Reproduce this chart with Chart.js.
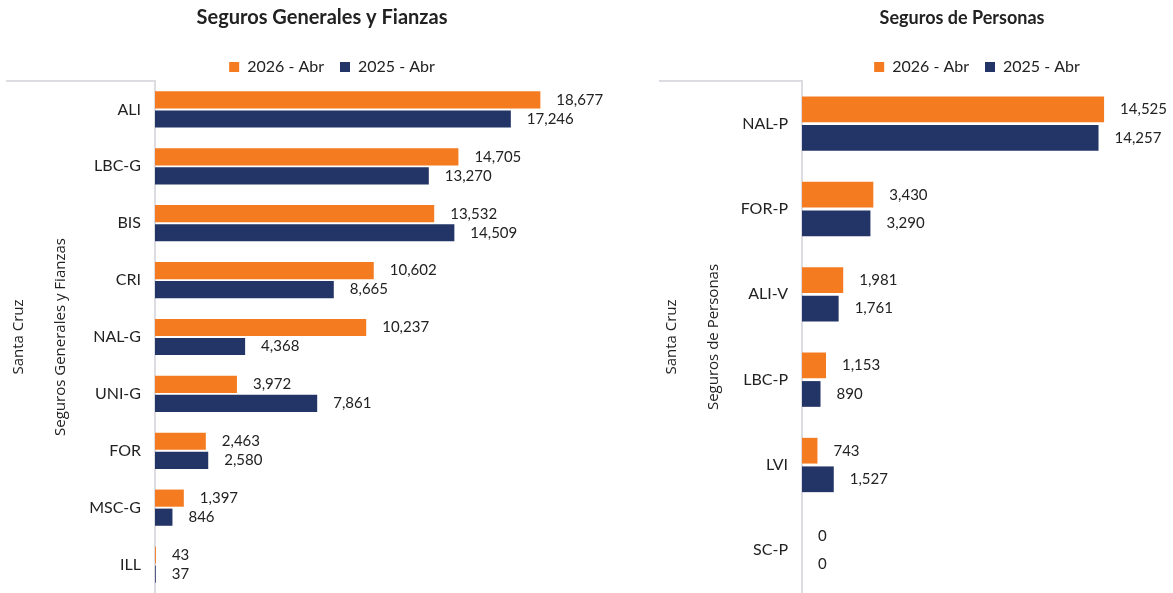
<!DOCTYPE html>
<html>
<head>
<meta charset="utf-8">
<script src="https://cdn.jsdelivr.net/npm/chart.js@4"></script>
<style>
    html, body { margin: 0; padding: 0; background: #fff; overflow: hidden; }
    body { width: 1173px; height: 593px; position: relative; }
    .box { position: absolute; top: 0; height: 593px; }
    #left-box { left: 0; width: 644px; }
    #right-box { left: 653px; width: 618px; }
</style>
</head>
<body>
<div class="box" id="left-box"><canvas id="leftChart"></canvas></div>
<div class="box" id="right-box"><canvas id="rightChart"></canvas></div>
<script>
// Seguros Generales y Fianzas
const genCategories = ['ALI', 'LBC-G', 'BIS', 'CRI', 'NAL-G', 'UNI-G', 'FOR', 'MSC-G', 'ILL'];
const gen2026 = [18677, 14705, 13532, 10602, 10237, 3972, 2463, 1397, 43];
const gen2025 = [17246, 13270, 14509, 8665, 4368, 7861, 2580, 846, 37];

// Seguros de Personas
const perCategories = ['NAL-P', 'FOR-P', 'ALI-V', 'LBC-P', 'LVI', 'SC-P'];
const per2026 = [14525, 3430, 1981, 1153, 743, 0];
const per2025 = [14257, 3290, 1761, 890, 1527, 0];

const seriesLabels = ['2026 - Abr', '2025 - Abr'];
const regionLabel = 'Santa Cruz';

const ORANGE = '#F47B20';
const NAVY = '#233466';
const TEXT = '#222222';
const AXIS_GREY = '#DCDCE2';
const FONT = 'Lato, "Open Sans", sans-serif';

// Value labels to the right of each bar
const valueLabels = {
    id: 'valueLabels',
    afterDatasetsDraw(chart) {
        const ctx = chart.ctx;
        ctx.save();
        ctx.font = '15px ' + FONT;
        ctx.fillStyle = TEXT;
        ctx.textAlign = 'left';
        ctx.textBaseline = 'middle';
        chart.data.datasets.forEach((ds, i) => {
            const meta = chart.getDatasetMeta(i);
            meta.data.forEach((bar, j) => {
                ctx.fillText(ds.data[j].toLocaleString('en-US'), bar.x + 16, bar.y);
            });
        });
        ctx.restore();
    }
};

// Nested axis titles, top border of the label area, legend nudge
const groupAxis = {
    id: 'groupAxis',
    afterLayout(chart, args, opts) {
        // legend sits a bit right of the title in the original
        chart.legend.left += opts.legendShift;
        chart.legend.right += opts.legendShift;
    },
    afterDraw(chart, args, opts) {
        const ctx = chart.ctx;
        const area = chart.chartArea;
        const midY = (area.top + area.bottom) / 2;
        ctx.save();
        ctx.strokeStyle = AXIS_GREY;
        ctx.lineWidth = 2;
        ctx.beginPath();
        ctx.moveTo(6, area.top);
        ctx.lineTo(area.left, area.top);
        ctx.stroke();

        ctx.fillStyle = TEXT;
        ctx.font = '15px "Open Sans", sans-serif';
        ctx.textAlign = 'center';
        ctx.textBaseline = 'middle';
        [[19, regionLabel], [61, opts.group]].forEach(([x, text]) => {
            ctx.save();
            ctx.translate(x, midY);
            ctx.rotate(-Math.PI / 2);
            ctx.fillText(text, 0, 0);
            ctx.restore();
        });
        ctx.restore();
    }
};

function buildChart(canvasId, title, titleSize, group, categories, d2026, d2025, axisWidth, xMax, legendShift) {
    const ctx = document.getElementById(canvasId).getContext('2d');
    const titleTop = 6 + (20 - titleSize) / 2;
    return new Chart(ctx, {
        type: 'bar',
        data: {
            labels: categories,
            datasets: [{
                label: seriesLabels[0],
                data: d2026,
                backgroundColor: ORANGE,
                categoryPercentage: 0.67,
                barPercentage: 0.9
            }, {
                label: seriesLabels[1],
                data: d2025,
                backgroundColor: NAVY,
                categoryPercentage: 0.67,
                barPercentage: 0.9
            }]
        },
        options: {
            indexAxis: 'y',
            responsive: true,
            maintainAspectRatio: false,
            animation: false,
            layout: {
                padding: 0
            },
            plugins: {
                title: {
                    display: true,
                    text: title,
                    color: TEXT,
                    font: { family: FONT, size: titleSize, weight: 'bold' },
                    padding: { top: titleTop, bottom: 13 + (20 - titleSize) * 0.7 }
                },
                legend: {
                    display: true,
                    maxHeight: 38,
                    labels: {
                        color: TEXT,
                        boxWidth: 10,
                        boxHeight: 10,
                        padding: 16,
                        font: { family: FONT, size: 16 }
                    }
                },
                tooltip: { enabled: false },
                groupAxis: { group: group, legendShift: legendShift }
            },
            scales: {
                x: {
                    display: false,
                    min: 0,
                    max: xMax
                },
                y: {
                    grid: { display: false, drawTicks: false },
                    border: { display: true, color: AXIS_GREY, width: 2 },
                    ticks: {
                        color: TEXT,
                        padding: 14,
                        font: { family: FONT, size: 16 }
                    },
                    afterFit(scale) {
                        scale.width = axisWidth;
                        scale.paddingTop = 0;
                        scale.paddingBottom = 0;
                    }
                }
            }
        },
        plugins: [valueLabels, groupAxis]
    });
}

buildChart('leftChart', 'Seguros Generales y Fianzas', 20, 'Seguros Generales y Fianzas',
    genCategories, gen2026, gen2025, 155, 23700, 10);
buildChart('rightChart', 'Seguros de Personas', 18, 'Seguros de Personas',
    perCategories, per2026, per2025, 149, 22550, 15);
</script>
</body>
</html>
